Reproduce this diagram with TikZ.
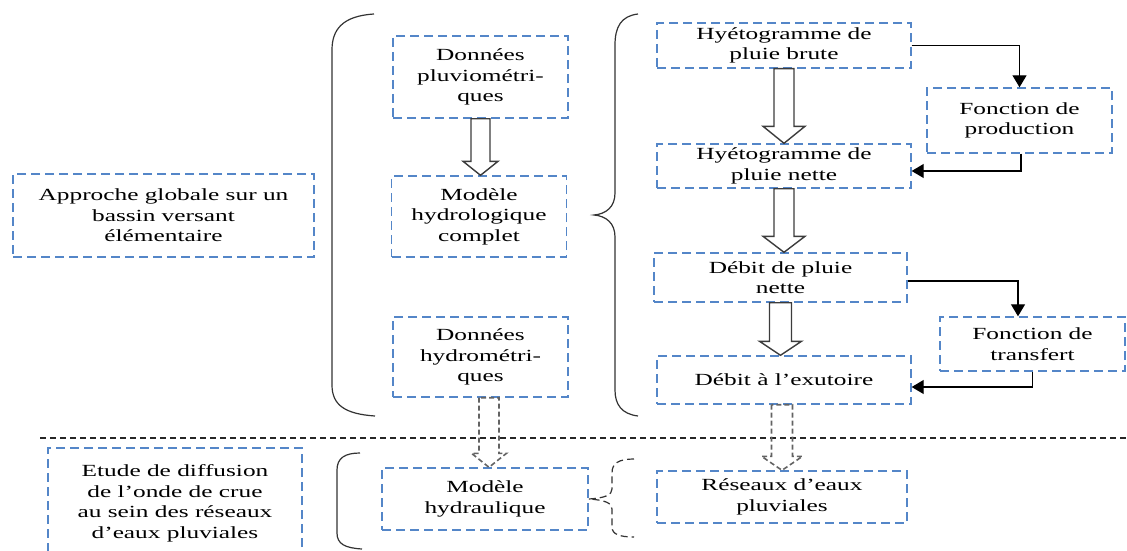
\documentclass[tikz,border=0pt]{standalone}
\usepackage{fontspec}
\setmainfont{Liberation Serif}[FakeStretch=1.49]
\usetikzlibrary{calc,arrows.meta}
\definecolor{boxblue}{RGB}{84,134,200}
\definecolor{arrgray}{RGB}{60,60,60}
\tikzset{
  bx/.style={draw=boxblue, line width=1.4pt, dash pattern=on 9pt off 5pt, inner sep=0pt, align=center,
    font=\fontsize{17pt}{20.5pt}\selectfont},
  thinarr/.style={draw=black, line width=1.3pt, -{Triangle[width=14pt,length=12pt]}},
  harrow/.style={draw=arrgray, line width=1.4pt, fill=white, line join=miter},
  dharrow/.style={draw=arrgray!80, line width=1.6pt, dash pattern=on 5pt off 3pt},
  brc/.style={draw=black!80, line width=1.2pt},
  sep/.style={draw=black!85, line width=1.2pt, dash pattern=on 6pt off 4pt}
}
% hollow arrow: style, from, to, half shaft, half head, head length
\newcommand\harr[6]{%
  \draw[#1] let \p1=(#2), \p2=(#3) in
    (\x1-#4pt,\y1) -- (\x1-#4pt,\y2+#6pt) -- (\x1-#5pt,\y2+#6pt) -- (\x1,\y2)
    -- (\x1+#5pt,\y2+#6pt) -- (\x1+#4pt,\y2+#6pt) -- (\x1+#4pt,\y1) -- cycle;}
\begin{document}
\begin{tikzpicture}[x=1pt,y=-1pt]
\useasboundingbox (0,0) rectangle (1127,551);
\clip (0,0) rectangle (1127,551);

% left column
\node[bx, minimum width=301pt, minimum height=83pt] (approche) at (163.5,215.5)
  {Approche globale sur un\\bassin versant\\élémentaire};
\node[bx, minimum width=175pt, minimum height=82pt] (dpluv) at (480.5,77)
  {Données\\pluviométri-\\ques};
\node[bx, minimum width=175pt, minimum height=81pt] (mhydro) at (479,216.5)
  {Modèle\\hydrologique\\complet};
\node[bx, minimum width=175pt, minimum height=80pt] (dhydro) at (480.5,357)
  {Données\\hydrométri-\\ques};

% right column
\node[bx, minimum width=254pt, minimum height=45pt] (hbrute) at (784,45.5)
  {Hyétogramme de\\pluie brute};
\node[bx, minimum width=185pt, minimum height=65pt] (fprod) at (1019.5,120.5)
  {Fonction de\\production};
\node[bx, minimum width=254pt, minimum height=44pt] (hnette) at (784,166)
  {Hyétogramme de\\pluie nette};
\node[bx, minimum width=253pt, minimum height=49pt] (dnette) at (780.5,277.5)
  {Débit de pluie\\nette};
\node[bx, minimum width=185pt, minimum height=54pt] (ftrans) at (1032.5,344)
  {Fonction de\\transfert};
\node[bx, minimum width=254pt, minimum height=48pt] (dexut) at (784,380)
  {Débit à l’exutoire};

% bottom part
\node[bx, minimum width=254pt, minimum height=111pt] (etude) at (175,503.5)
  {Etude de diffusion\\de l’onde de crue\\au sein des réseaux\\d’eaux pluviales};
\node[bx, minimum width=206pt, minimum height=62pt] (mhydrau) at (485,499)
  {Modèle\\hydraulique};
\node[bx, minimum width=250pt, minimum height=52pt] (reseaux) at (782,497)
  {Réseaux d’eaux\\pluviales};

% separator
\coordinate (sepL) at (40,438);
\coordinate (sepR) at (1127,438);
\draw[sep] (sepL) -- (sepR);

% hollow arrows
\harr{harrow}{dpluv.south}{mhydro.north}{9.5}{17.5}{14}
\harr{harrow}{hbrute.south}{hnette.north}{10}{21}{17}
\harr{harrow}{hnette.south}{dnette.north}{10}{21}{16}
\harr{harrow}{dnette.south}{dexut.north}{11}{21}{14}
\harr{dharrow}{[xshift=8.5pt]dhydro.south}{mhydrau.north}{10}{17.5}{14}
\harr{dharrow}{[xshift=-2pt]dexut.south}{reseaux.north}{10.5}{20.5}{14}

% thin arrows
\draw[thinarr] (hbrute.east) -| (fprod.north);
\draw[thinarr] ([xshift=1.5pt]fprod.south) |- ([yshift=-5pt]hnette.east);
\draw[thinarr] ([yshift=-3.5pt]dnette.east) -| ([xshift=-14.5pt]ftrans.north);
\draw[thinarr] (ftrans.south) |- ([yshift=-7pt]dexut.east);

% braces
\draw[brc] (374,14) .. controls (342,16) and (332,30) .. (332,50) -- (332,385)
  .. controls (332,405) and (345,414) .. (375,416);
\draw[brc] (638,14) .. controls (621,16) and (615,27) .. (615,45) -- (615,193)
  .. controls (615,207) and (606,214) .. (594,215)
  .. controls (606,216) and (615,223) .. (615,237) -- (615,390)
  .. controls (615,405) and (622,414) .. (638,416);
\draw[brc] (360,453) .. controls (345,453) and (337,458) .. (337,470) -- (337,533)
  .. controls (337,544) and (345,548) .. (362,549);
\draw[brc, dash pattern=on 7pt off 4pt] (634,459) .. controls (619,459) and (612,463) .. (612,473) -- (612,489)
  .. controls (612,495) and (605,498) .. (mhydrau.east)
  .. controls (605,500) and (612,503) .. (612,509) -- (612,527)
  .. controls (612,534) and (619,537) .. (634,537);
\end{tikzpicture}
\end{document}
